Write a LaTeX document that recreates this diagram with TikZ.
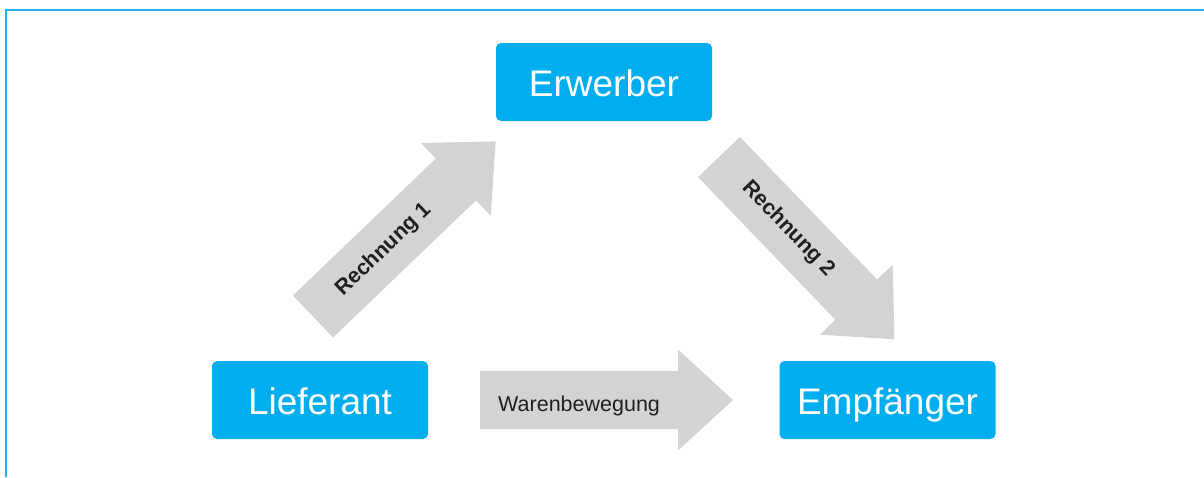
\documentclass[tikz,border=0pt]{standalone}
\usepackage{fontspec}
\setmainfont{Liberation Sans}
\definecolor{boxcyan}{HTML}{00AEEF}
\definecolor{framecyan}{HTML}{22B2EA}
\definecolor{arrowgray}{HTML}{D1D3D4}
\definecolor{txtdark}{HTML}{231F20}
\begin{document}
\begin{tikzpicture}[x=1pt,y=-1pt,
  party/.style={fill=boxcyan, rounded corners=5pt, minimum width=216pt, minimum height=78pt,
    inner sep=0pt, text=white, text height=28.5pt, text depth=0pt, font=\fontsize{37}{40}\selectfont},
  blockarrow/.pic={\fill[arrowgray] (0,-29) -- (198,-29) -- (198,-50.5) -- (253,0) -- (198,50.5) -- (198,29) -- (0,29) -- cycle;},
  arrowlabel/.style={text=txtdark, inner sep=0pt, font=\fontsize{21.5}{24}\selectfont},
  boldlabel/.style={arrowlabel, font=\bfseries\fontsize{21.5}{24}\selectfont}]
\useasboundingbox (0,0) rectangle (1204,477);
\fill[white] (0,0) rectangle (1204,477);
% frame
\draw[framecyan, line width=2pt] (1204,9.5) -- (6.2,9.5) -- (6.2,477);
% parties
\node[party] (erw) at (604,82) {Erwerber};
\node[party] (lief) at (320,400) {Lieferant};
\node[party] (empf) at (887.5,400) {Empfänger};
% block arrows
\coordinate (r1s) at (313,316.5);
\coordinate (r2s) at (719,157);
\coordinate (wbs) at (480,400);
\pic[rotate=43.8] at (r1s) {blockarrow};
\pic[rotate=-46.1] at (r2s) {blockarrow};
\pic at (wbs) {blockarrow};
% labels
\node[boldlabel, rotate=43.8] (l1) at (384,250) {Rechnung 1};
\node[boldlabel, rotate=-46.1] (l2) at (788,229) {Rechnung 2};
\node[arrowlabel, anchor=base west] (l3) at (498,411.5) {Warenbewegung};
\end{tikzpicture}
\end{document}
